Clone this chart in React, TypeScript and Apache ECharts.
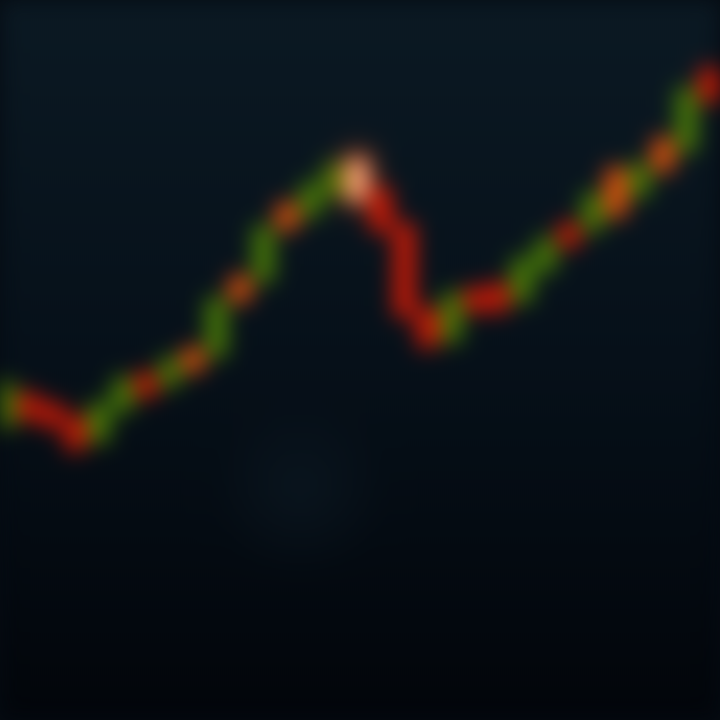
import React, { useEffect, useRef } from "react";
import * as echarts from "echarts";

const categories = ["1","2","3","4","5","6","7","8","9","10","11","12","13","14","15","16","17","18","19","20","21","22","23","24","25","26","27","28","29","30","31"];
const opens = [295,325,315,302,280,310,345,335,370,365,442,440,515,505,525,560,530,495,410,380,430,435,420,450,495,490,550,525,580,570,650];
const closes = [335,302,295,272,315,340,325,360,350,420,420,492,492,535,555,520,490,405,375,425,410,410,460,480,475,525,505,555,550,630,620];
const lows = [287,296,288,265,274,305,320,330,345,360,414,434,486,500,520,515,484,398,368,374,404,405,414,445,470,485,500,520,545,565,615];
const highs = [343,330,320,308,320,346,350,366,375,426,447,498,520,540,560,568,536,500,415,430,436,440,466,486,500,530,556,560,585,636,656];
const orangeDays = ["9","11","13","27","29"];
const peakDay = "16";

const UP = "#4a7d06";
const DOWN = "#d01a06";
const ORANGE = "#e0500e";
const PEAK = "#f8b890";

export default function App() {
  const ref = useRef<HTMLDivElement>(null);
  useEffect(() => {
    if (!ref.current) return;
    const chart = echarts.init(ref.current, null, { renderer: "svg" });
    const data = categories.map((c, i) => {
      const item: any = { value: [opens[i], closes[i], lows[i], highs[i]] };
      if (c === peakDay) {
        item.itemStyle = { color0: PEAK, borderColor0: "#ff6a30", shadowBlur: 24, shadowColor: "#ff5a20" };
      } else if (orangeDays.includes(c)) {
        item.itemStyle = { color0: ORANGE, borderColor0: ORANGE };
      }
      return item;
    });
    chart.setOption({
      animation: false,
      backgroundColor: {
        type: "linear", x: 0, y: 0, x2: 0, y2: 1,
        colorStops: [
          { offset: 0, color: "#0b1923" },
          { offset: 0.5, color: "#061019" },
          { offset: 1, color: "#02050a" },
        ],
      },
      graphic: [
        {
          type: "circle",
          shape: { cx: 300, cy: 490, r: 90 },
          style: {
            fill: {
              type: "radial", x: 0.5, y: 0.5, r: 0.5,
              colorStops: [
                { offset: 0, color: "rgba(18,36,48,0.35)" },
                { offset: 1, color: "rgba(18,36,48,0)" },
              ],
            },
          },
          z: -1,
        },
      ],
      grid: { left: 5, right: 10, top: 0, bottom: 0 },
      xAxis: { type: "category", data: categories, boundaryGap: false, show: false },
      yAxis: { type: "value", min: 0, max: 720, show: false, splitLine: { show: false } },
      series: [
        {
          type: "candlestick",
          data,
          barWidth: 19,
          itemStyle: {
            color: UP,
            color0: DOWN,
            borderColor: UP,
            borderColor0: DOWN,
            borderWidth: 3,
          },
        },
      ],
    });
    return () => chart.dispose();
  }, []);
  return (
    <div style={{ position: "fixed", left: 0, top: 0, width: 720, height: 720, background: "#050b12", overflow: "hidden" }}>
      <div ref={ref} style={{ width: 720, height: 720, filter: "blur(11px)" }} />
    </div>
  );
}
